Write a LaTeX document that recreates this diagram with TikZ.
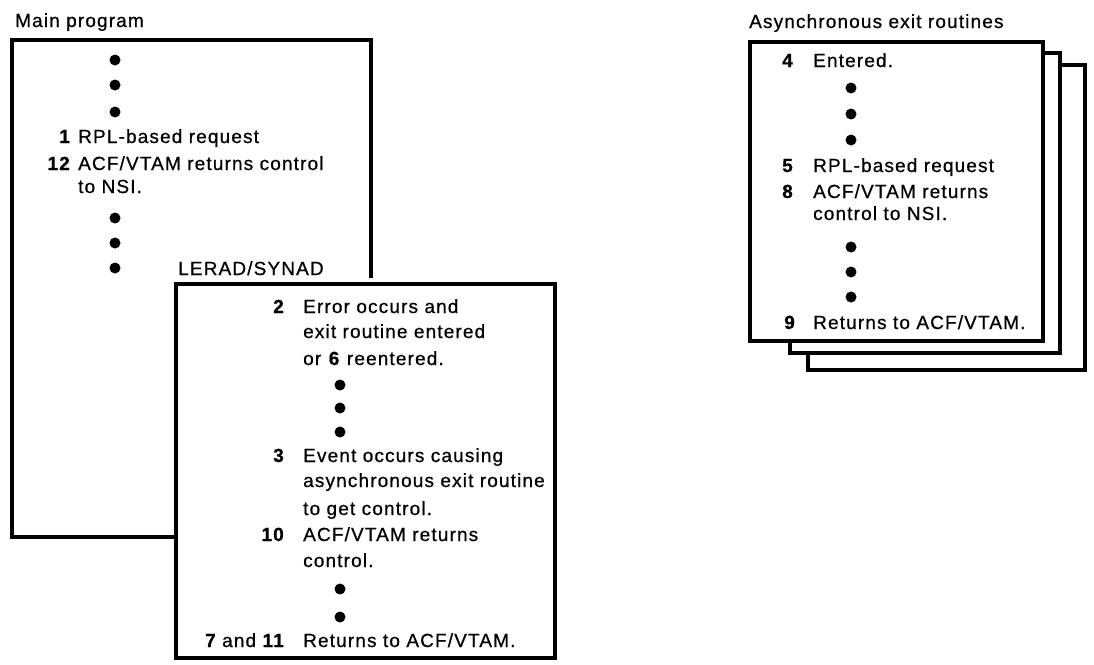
\documentclass[tikz,border=0pt]{standalone}
\usepackage{fontspec}
\setmainfont{Liberation Sans}[LetterSpace=6,FakeBold=0.7]
\begin{document}
\begin{tikzpicture}[x=1pt,y=-1pt,
  frame/.style={line width=3.4pt,line join=miter},
  txt/.style={anchor=base west,inner sep=0pt,font=\fontsize{19}{22}\selectfont},
  num/.style={anchor=base east,inner sep=0pt,font=\fontsize{19}{22}\selectfont\bfseries},
  dot/.style={circle,fill=black,inner sep=0pt,minimum size=11pt}]
\useasboundingbox (0,0) rectangle (1094,664);

% ---- main program ----
\node[txt] (mtitle) at (15,27) {Main program};
\draw[frame] (371,278) -- (371,40) -- (12,40) -- (12,537) -- (176,537);
\node[dot] (md1) at (115,60) {};
\node[dot] (md2) at (115,85) {};
\node[dot] (md3) at (115,112) {};
\node[num] (n1) at (70,143) {1};
\node[txt] (t1) at (78,143) {RPL-based request};
\node[num] (n12) at (70,170) {12};
\node[txt] (t12a) at (78,170) {ACF/VTAM returns control};
\node[txt] (t12b) at (78,193) {to NSI.};
\node[dot] (md4) at (115,218) {};
\node[dot] (md5) at (115,243) {};
\node[dot] (md6) at (115,268) {};
\node[txt] (lerad) at (178,275) {LERAD/SYNAD};

% ---- LERAD/SYNAD exit routine ----
\draw[frame] (176,284) rectangle (555,658);
\node[num] (n2) at (284,313) {2};
\node[txt] (t2a) at (303,313) {Error occurs and};
\node[txt] (t2b) at (303,338) {exit routine entered};
\node[txt] (t2c) at (303,365) {or \textbf{6} reentered.};
\node[dot] (ld1) at (340,385) {};
\node[dot] (ld2) at (340,408) {};
\node[dot] (ld3) at (340,432) {};
\node[num] (n3) at (284,462) {3};
\node[txt] (t3a) at (303,462) {Event occurs causing};
\node[txt] (t3b) at (303,487) {asynchronous exit routine};
\node[txt] (t3c) at (303,515) {to get control.};
\node[num] (n10) at (284,541) {10};
\node[txt] (t10a) at (303,541) {ACF/VTAM returns};
\node[txt] (t10b) at (303,567) {control.};
\node[dot] (ld4) at (340,589) {};
\node[dot] (ld5) at (340,617) {};
\node[num] (n7) at (284,647) {7\mdseries\ and \bfseries 11};
\node[txt] (t7) at (303,647) {Returns to ACF/VTAM.};

% ---- asynchronous exit routines (stacked) ----
\node[txt] (atitle) at (749,28) {Asynchronous exit routines};
\draw[frame,fill=white] (808,65) rectangle (1085,370);
\draw[frame,fill=white] (790,53) rectangle (1060,353);
\draw[frame,fill=white] (750,42) rectangle (1043,341);
\node[num] (n4) at (793,67) {4};
\node[txt] (t4) at (813,67) {Entered.};
\node[dot] (ad1) at (851,88) {};
\node[dot] (ad2) at (851,114) {};
\node[dot] (ad3) at (851,140) {};
\node[num] (n5) at (793,172) {5};
\node[txt] (t5) at (813,172) {RPL-based request};
\node[num] (n8) at (793,198) {8};
\node[txt] (t8a) at (813,198) {ACF/VTAM returns};
\node[txt] (t8b) at (813,220) {control to NSI.};
\node[dot] (ad4) at (851,247) {};
\node[dot] (ad5) at (851,272) {};
\node[dot] (ad6) at (851,297) {};
\node[num] (n9) at (795,329) {9};
\node[txt] (t9) at (813,329) {Returns to ACF/VTAM.};
\end{tikzpicture}
\end{document}
